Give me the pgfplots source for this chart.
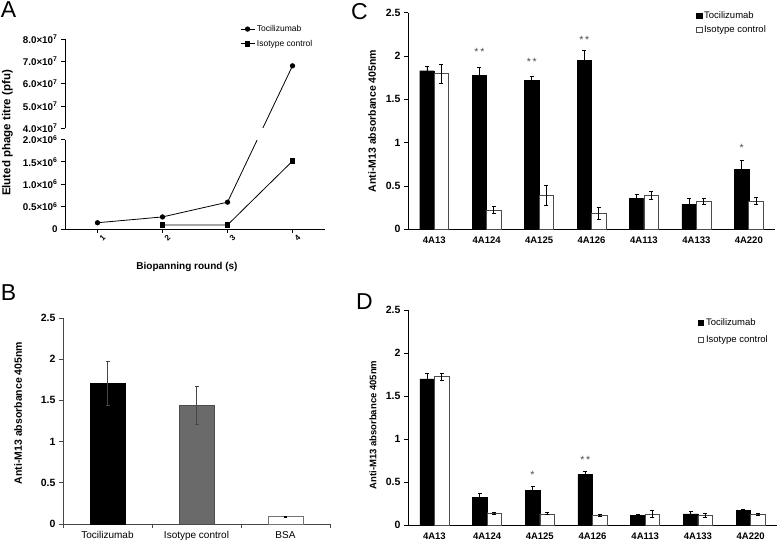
\documentclass[border=0pt]{standalone}
\usepackage{pgfplots}
\usepackage{pgfplotstable}
\pgfplotsset{compat=1.18}
\usepackage{fontspec}
\setmainfont{Liberation Sans}
\definecolor{isoGray}{RGB}{106,106,106}
\definecolor{axGray}{RGB}{70,70,70}
\newcommand\fs[1]{\fontsize{#1}{#1}\selectfont}

% panel C: ELISA, 4th round clones (xt / xi = bar centres of the two series)
\pgfplotstableread{
xt xi toci tocierr iso isoerr
0.862 1.138 1.830 0.055 1.795 0.110
1.862 2.138 1.773 0.100 0.223 0.040
2.862 3.138 1.719 0.050 0.392 0.120
3.862 4.138 1.950 0.110 0.185 0.070
4.862 5.138 0.360 0.040 0.390 0.045
5.862 6.138 0.290 0.065 0.320 0.035
6.862 7.138 0.690 0.110 0.323 0.040
}\dataC

% panel D
\pgfplotstableread{
xt xi toci tocierr iso isoerr
0.862 1.138 1.700 0.060 1.725 0.040
1.862 2.138 0.318 0.050 0.140 0.012
2.862 3.138 0.400 0.045 0.130 0.012
3.862 4.138 0.585 0.035 0.110 0.010
4.862 5.138 0.110 0.015 0.130 0.040
5.862 6.138 0.130 0.030 0.110 0.020
6.862 7.138 0.167 0.020 0.124 0.015
}\dataD

\begin{document}
\begin{tikzpicture}[x=1pt,y=1pt]
\path[use as bounding box] (0pt,0pt) rectangle (778pt,547pt);
\pgfplotsset{
  every axis/.append style={scale only axis, clip=false,
    axis x line*=bottom, axis y line*=left, tick align=outside,
    major tick length=4pt, /pgf/number format/assume math mode=true},
  legsq/.style={legend image code/.code={\draw[##1, line width=0.6pt] (0pt,-2.6pt) rectangle (5.2pt,2.6pt);}},
  cd/.style={xmin=0.5, xmax=7.5, ymin=0, ymax=2.5, ytick={0,0.5,...,2.5},
    xtick={1,...,7}, xticklabels={4A13,4A124,4A125,4A126,4A113,4A133,4A220},
    major x tick style={draw=none},
    xticklabel style={font=\bfseries\fs{9.5}},
    yticklabel style={font=\bfseries\fs{10.5}},
    axis line style={black, line width=0.8pt}, y tick style={black, line width=0.8pt},
    legend style={draw=none, fill=none, font=\fs{9.5}, row sep=2pt, inner sep=0pt, anchor=north west},
    legend cell align=left,
    every axis y label/.style={rotate=90, anchor=center, font=\bfseries\fs{10.5}}},
  tocibar/.style={ybar, bar width=14.5pt, bar shift=0pt, fill=black, draw=black, legsq,
    error bars/.cd, y dir=both, y explicit, error bar style={black, line width=0.8pt},
    error mark options={rotate=90, mark size=2pt, black, line width=0.8pt}},
  isobar/.style={ybar, bar width=14.5pt, bar shift=0pt, fill=white, draw=black!70, line width=0.6pt, legsq,
    error bars/.cd, y dir=both, y explicit, error bar style={black, line width=0.8pt},
    error mark options={rotate=90, mark size=2pt, black, line width=0.8pt}},
  stars/.style={draw=none, forget plot, nodes near coords, point meta=explicit symbolic,
    nodes near coords style={anchor=center, font=\fs{10.5}, text=black!70}}
}

% ---------- A ----------
\begin{axis}[
  at={(65pt,318pt)}, anchor=south west, width=260pt, height=190pt,
  xmin=0.5, xmax=4.5, ymin=0, ymax=80,
  y coord trafo/.code={\pgfmathparse{#1<10 ? 2*#1 : 4.5+(#1-40)/10}},
  ytick={0,0.5,1,1.5,2,40,50,60,70,80},
  yticklabels={0,0.5×10\textsuperscript{6},1.0×10\textsuperscript{6},1.5×10\textsuperscript{6},2.0×10\textsuperscript{6},
    4.0×10\textsuperscript{7},5.0×10\textsuperscript{7},6.0×10\textsuperscript{7},7.0×10\textsuperscript{7},8.0×10\textsuperscript{7}},
  xtick={1,2,3,4},
  xticklabel style={rotate=45, anchor=center, yshift=-7pt, font=\bfseries\fs{8}},
  yticklabel style={font=\bfseries\fs{9.8}},
  y axis line style={draw=none},
  axis line style={line width=0.9pt}, tick style={line width=0.9pt, black},
  xlabel={Biopanning round (s)},
  every axis x label/.style={at={(rel axis cs:0.469,-0.2)}, anchor=center, font=\bfseries\fs{10}},
  ylabel={Eluted phage titre (pfu)},
  every axis y label/.style={at={(rel axis cs:-0.221,0.505)}, rotate=90, anchor=center, font=\bfseries\fs{11.5}},
  legend style={at={(0.673,1.084)}, anchor=north west, draw=none, fill=none, font=\fs{8.5}, row sep=3pt, inner sep=0pt},
  legend cell align=left,
  legend image code/.code={\draw[mark repeat=2, mark phase=2, #1] plot coordinates {(0pt,0pt) (7pt,0pt) (14pt,0pt)};},
]
\addplot[black, line width=0.8pt, mark=*, mark size=2.2pt] coordinates {(1,0.14) (2,0.27) (3,0.6) (4,68)};
\addlegendentry{Tocilizumab}
\addplot[black, line width=0.8pt, mark=square*, mark size=2.2pt] coordinates {(2,0.09) (3,0.09) (4,1.52)};
\addlegendentry{Isotype control}
\fill[white] (rel axis cs:0.7,0.4706) rectangle (rel axis cs:0.8,0.5294);
\draw[line width=0.9pt] (rel axis cs:0,0) -- (rel axis cs:0,0.4706);
\draw[line width=0.9pt] (rel axis cs:0,0.5294) -- (rel axis cs:0,1);
\draw[line width=0.9pt] (rel axis cs:0,0) -- (rel axis cs:1,0);
\end{axis}

% ---------- B ----------
\begin{axis}[
  at={(63pt,23pt)}, anchor=south west, width=267pt, height=206pt,
  xmin=0.5, xmax=3.5, ymin=0, ymax=2.5, ytick={0,0.5,...,2.5},
  xtick={0.5,1.5,2.5,3.5}, xticklabels={Tocilizumab,Isotype control,BSA,{}},
  xticklabel style={font=\fs{10}, xshift=44.5pt},
  yticklabel style={font=\bfseries\fs{10.5}},
  axis line style={axGray, line width=0.8pt}, tick style={axGray, line width=0.8pt},
  ylabel={Anti-M13 absorbance 405nm},
  every axis y label/.style={at={(rel axis cs:-0.1685,0.539)}, rotate=90, anchor=center, font=\bfseries\fs{10.5}},
]
\addplot[ybar, bar width=35pt, bar shift=0pt, fill=black, draw=black,
  error bars/.cd, y dir=both, y explicit, error bar style={axGray, line width=1.1pt},
  error mark options={rotate=90, mark size=2pt, axGray, line width=1pt}]
  coordinates {(1,1.705) +- (0,0.265)};
\addplot[ybar, bar width=35pt, bar shift=0pt, fill=isoGray, draw=black!70,
  error bars/.cd, y dir=both, y explicit, error bar style={axGray, line width=1.1pt},
  error mark options={rotate=90, mark size=2pt, axGray, line width=1pt}]
  coordinates {(2,1.44) +- (0,0.23)};
\addplot[ybar, bar width=35pt, bar shift=0pt, fill=white, draw=black!55, line width=0.6pt,
  error bars/.cd, y dir=both, y explicit, error bar style={black, line width=1pt},
  error mark options={rotate=90, mark size=1.5pt, black, line width=1pt}]
  coordinates {(3,0.09) +- (0,0.006)};
\end{axis}

% ---------- C ----------
\begin{axis}[cd, at={(408pt,317.7pt)}, anchor=south west, width=367pt, height=216.6pt,
  legend style={at={(0.785,1.017)}},
  ylabel={Anti-M13 absorbance 405nm},
  every axis y label/.append style={at={(rel axis cs:-0.098,0.5)}},
]
\addplot[tocibar] table[x=xt, y=toci, y error=tocierr] {\dataC};
\addlegendentry{Tocilizumab}
\addplot[isobar] table[x=xi, y=iso, y error=isoerr] {\dataC};
\addlegendentry{Isotype control}
\addplot[stars] coordinates {(1.862,2.045)[*\,*] (2.862,1.935)[*\,*] (3.862,2.185)[*\,*] (6.862,0.935)[*]};
\end{axis}

% ---------- D ----------
\begin{axis}[cd, at={(408pt,22pt)}, anchor=south west, width=369pt, height=215pt,
  legend style={at={(0.786,0.972)}, row sep=5pt},
  ylabel={Anti-M13 absorbance 405nm},
  every axis y label/.append style={at={(rel axis cs:-0.095,0.465)}, font=\bfseries\fs{9.5}},
]
\addplot[tocibar] table[x=xt, y=toci, y error=tocierr] {\dataD};
\addlegendentry{Tocilizumab}
\addplot[isobar] table[x=xi, y=iso, y error=isoerr] {\dataD};
\addlegendentry{Isotype control}
\addplot[stars] coordinates {(2.862,0.58)[*] (3.862,0.755)[*\,*]};
\end{axis}

% panel letters
\node[font=\fs{23}] at (8.5pt,537pt) {A};
\node[font=\fs{23}] at (8.5pt,254pt) {B};
\node[font=\fs{23}] at (359.5pt,535.5pt) {C};
\node[font=\fs{23}] at (364.5pt,245.5pt) {D};
\end{tikzpicture}
\end{document}
